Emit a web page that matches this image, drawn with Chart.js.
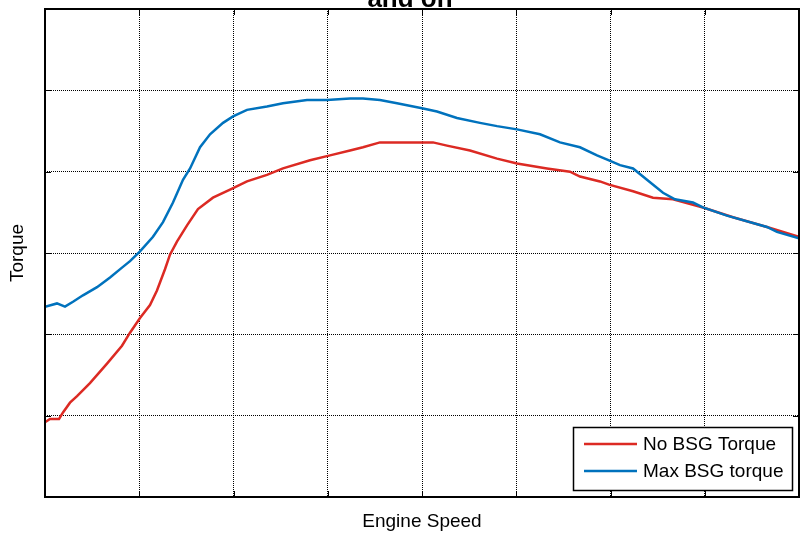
<!DOCTYPE html>
<html><head><meta charset="utf-8">
<script src="https://cdn.jsdelivr.net/npm/chart.js@4"></script>
<style>html,body{margin:0;padding:0;background:#fff}#wrap{width:807px;height:541px}</style>
</head><body><div id="wrap"><canvas id="c" width="807" height="541"></canvas></div>
<script>
const titleText = 'and on';
const xLabel = 'Engine Speed';
const yLabel = 'Torque';
const seriesNames = ['No BSG Torque', 'Max BSG torque'];
const seriesColors = ['#DC2A23', '#0072BD'];

const noBsgSpeed = [0,53,149,191,265,340,477,658,817,902,1008,1114,1188,1273,1326,1400,1507,1623,1782,1963,2143,2355,2525,2812,3024,3236,3374,3554,4117,4265,4509,4796,5008,5326,5570,5676,5888,5984,6239,6451,6663,6981,7300,7660,8000];
const noBsgTorque = [46,48,48,52,58,62,70,82,93,101,110,118,127,140,149,157,167,177,184,189,194,198,202,207,210,213,215,218,218,216,213,208,205,202,200,197,194,192,188,184,183,178,172,166,160];

const maxBsgSpeed = [0,127,212,297,403,552,690,817,902,1008,1146,1252,1358,1464,1539,1645,1751,1889,1995,2143,2355,2525,2780,2992,3236,3374,3554,3735,4000,4159,4371,4615,4796,5008,5252,5464,5676,5857,5984,6101,6239,6387,6557,6684,6875,6981,7236,7660,7766,8000];
const maxBsgTorque = [117,119,117,120,124,129,135,141,145,151,160,169,181,195,202,215,223,230,234,238,240,242,244,244,245,245,244,242,239,237,233,230,228,226,223,218,215,210,207,204,202,195,187,183,181,178,173,166,163,159];

const xTicks = [0,1000,2000,3000,4000,5000,6000,7000,8000];
const yTicks = [0,50,100,150,200,250,300];

const FONT = "'Liberation Sans', Arial, Helvetica, sans-serif";
Chart.defaults.color = '#000';
Chart.defaults.font.family = FONT;

const toPts = (xs, ys) => xs.map((v, i) => ({x: v, y: ys[i]}));

const framePlugin = {
  id: 'frame',
  afterDraw(chart) {
    const {ctx, chartArea: {left, top, right, bottom}, scales: {x, y}} = chart;
    ctx.save();
    ctx.strokeStyle = '#000';
    ctx.lineWidth = 1;
    ctx.beginPath();
    xTicks.forEach(v => {
      const px = Math.round(x.getPixelForValue(v)) + 0.5;
      ctx.moveTo(px, bottom); ctx.lineTo(px, bottom - 6);
      ctx.moveTo(px, top); ctx.lineTo(px, top + 6);
    });
    yTicks.forEach(v => {
      const py = Math.round(y.getPixelForValue(v)) + 0.5;
      ctx.moveTo(left, py); ctx.lineTo(left + 6, py);
      ctx.moveTo(right, py); ctx.lineTo(right - 6, py);
    });
    ctx.stroke();
    ctx.lineWidth = 2;
    ctx.strokeRect(left, top, right - left, bottom - top);

    // legend
    const lx = 573.5, ly = 427.5, lw = 219, lh = 63;
    ctx.fillStyle = '#fff';
    ctx.fillRect(lx, ly, lw, lh);
    ctx.lineWidth = 1.5;
    ctx.strokeStyle = '#000';
    ctx.strokeRect(lx, ly, lw, lh);
    ctx.font = '19px ' + FONT;
    ctx.textBaseline = 'middle';
    ctx.textAlign = 'left';
    chart.data.datasets.forEach((ds, i) => {
      const cy = 444 + i * 27;
      ctx.strokeStyle = ds.borderColor;
      ctx.lineWidth = 2.5;
      ctx.beginPath();
      ctx.moveTo(584, cy); ctx.lineTo(637, cy);
      ctx.stroke();
      ctx.fillStyle = '#000';
      ctx.fillText(ds.label, 643, cy + 1);
    });

    // title (last line visible)
    ctx.font = 'bold 26px ' + FONT;
    ctx.textAlign = 'center';
    ctx.textBaseline = 'alphabetic';
    ctx.fillStyle = '#000';
    ctx.fillText(titleText, 410, 7);
    ctx.restore();
  }
};

new Chart(document.getElementById('c'), {
  type: 'line',
  data: {
    datasets: [
      {label: seriesNames[0], data: toPts(noBsgSpeed, noBsgTorque), borderColor: seriesColors[0], borderWidth: 2.5, pointRadius: 0, tension: 0, order: 1},
      {label: seriesNames[1], data: toPts(maxBsgSpeed, maxBsgTorque), borderColor: seriesColors[1], borderWidth: 2.5, pointRadius: 0, tension: 0, order: 0}
    ]
  },
  options: {
    responsive: false,
    animation: false,
    layout: {padding: {top: 9, right: 8, left: 0, bottom: 0}},
    plugins: {legend: {display: false}, tooltip: {enabled: false}, title: {display: false}},
    scales: {
      x: {
        type: 'linear', min: 0, max: 8000,
        afterFit: s => { s.height = 44; },
        afterBuildTicks: s => { s.ticks = xTicks.map(v => ({value: v})); },
        ticks: {display: false},
        grid: {color: '#000', lineWidth: 1, drawTicks: false},
        border: {display: false, dash: [1, 1]},
        title: {display: true, text: xLabel, font: {size: 19, family: FONT}, padding: {top: 0, bottom: 7.6}}
      },
      y: {
        type: 'linear', min: 0, max: 300,
        afterFit: s => { s.width = 45; },
        afterBuildTicks: s => { s.ticks = yTicks.map(v => ({value: v})); },
        ticks: {display: false},
        grid: {color: '#000', lineWidth: 1, drawTicks: false},
        border: {display: false, dash: [1, 1]},
        title: {display: true, text: yLabel, font: {size: 19, family: FONT}, padding: {top: 6.6, bottom: 0}}
      }
    }
  },
  plugins: [framePlugin]
});
</script>
</body></html>
